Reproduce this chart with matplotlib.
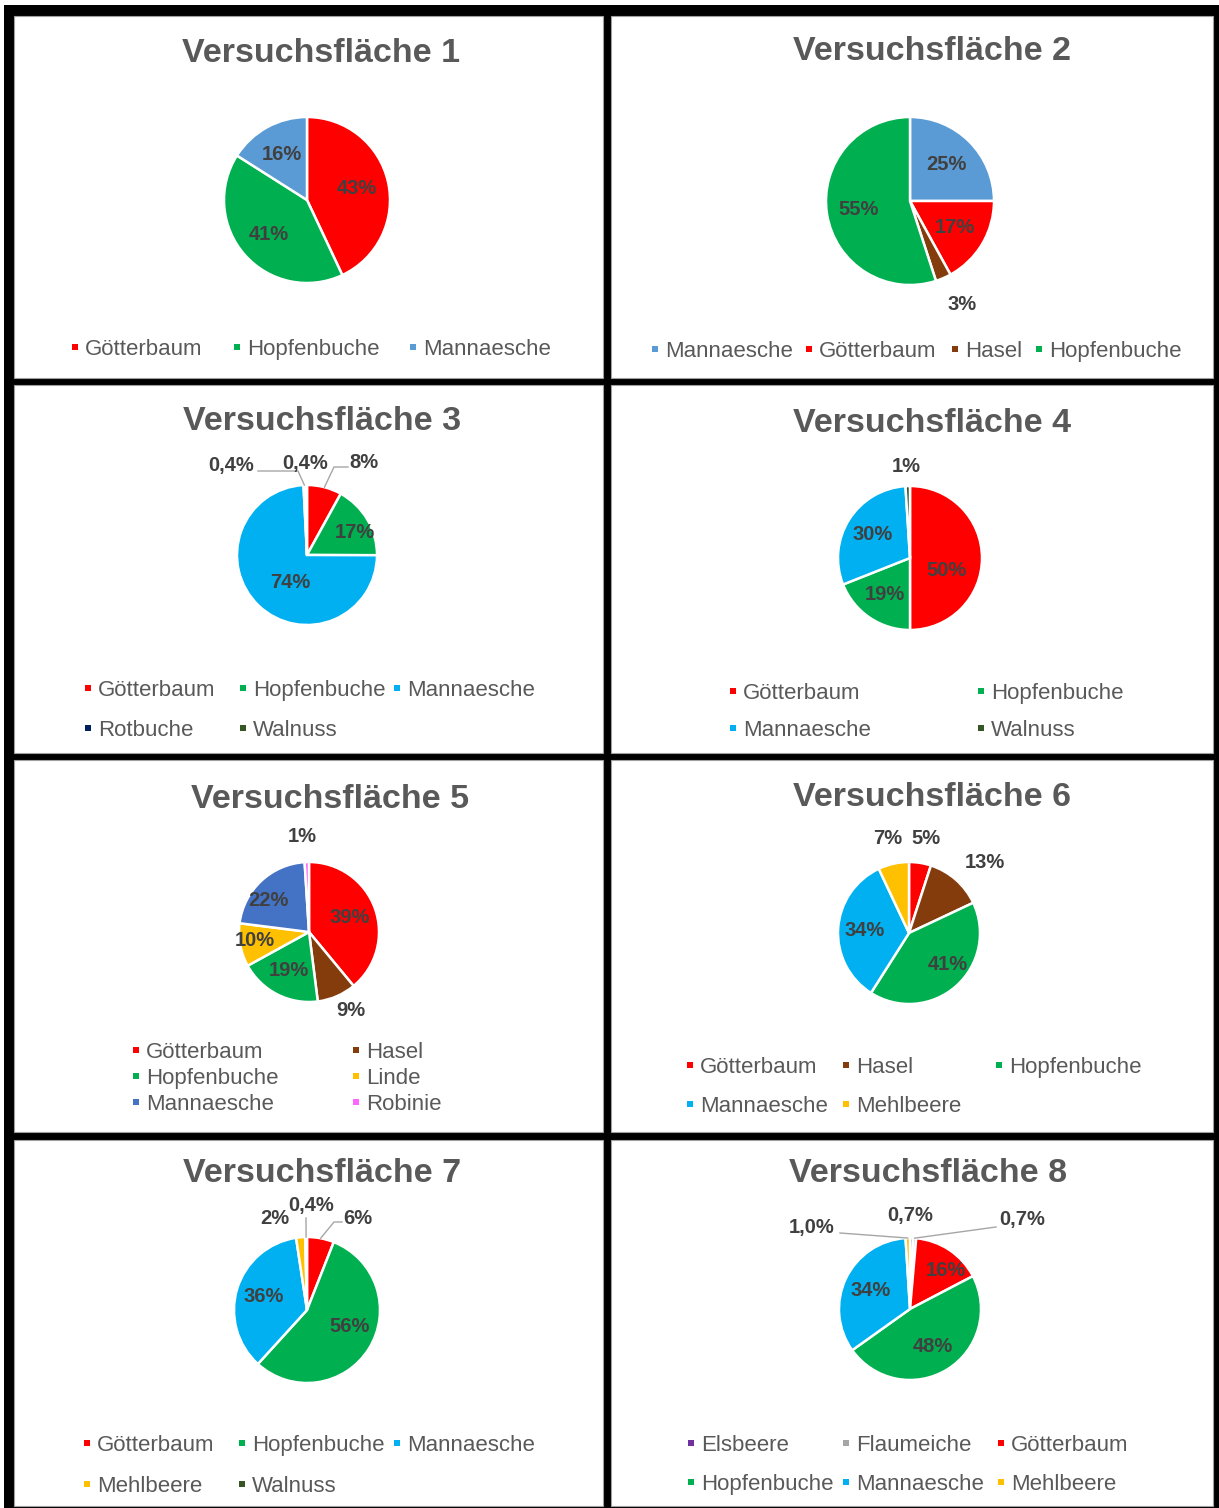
import matplotlib
matplotlib.use("Agg")
import matplotlib.pyplot as plt
from matplotlib.patches import Rectangle
import numpy as np

plt.rcParams["font.family"] = ["Liberation Sans", "DejaVu Sans"]

# ---------------- data ----------------
titles = ["Versuchsfläche 1", "Versuchsfläche 2", "Versuchsfläche 3", "Versuchsfläche 4",
          "Versuchsfläche 5", "Versuchsfläche 6", "Versuchsfläche 7", "Versuchsfläche 8"]

species1 = ["Götterbaum", "Hopfenbuche", "Mannaesche"]
values1 = [43, 41, 16]
labels1 = ["43%", "41%", "16%"]

species2 = ["Mannaesche", "Götterbaum", "Hasel", "Hopfenbuche"]
values2 = [25, 17, 3, 55]
labels2 = ["25%", "17%", "3%", "55%"]

species3 = ["Götterbaum", "Hopfenbuche", "Mannaesche", "Rotbuche", "Walnuss"]
values3 = [8, 17, 74, 0.4, 0.4]
labels3 = ["8%", "17%", "74%", "0,4%", "0,4%"]

species4 = ["Götterbaum", "Hopfenbuche", "Mannaesche", "Walnuss"]
values4 = [50, 19, 30, 1]
labels4 = ["50%", "19%", "30%", "1%"]

species5 = ["Götterbaum", "Hasel", "Hopfenbuche", "Linde", "Mannaesche", "Robinie"]
values5 = [39, 9, 19, 10, 22, 1]
labels5 = ["39%", "9%", "19%", "10%", "22%", "1%"]

species6 = ["Götterbaum", "Hasel", "Hopfenbuche", "Mannaesche", "Mehlbeere"]
values6 = [5, 13, 41, 34, 7]
labels6 = ["5%", "13%", "41%", "34%", "7%"]

species7 = ["Götterbaum", "Hopfenbuche", "Mannaesche", "Mehlbeere", "Walnuss"]
values7 = [6, 56, 36, 2, 0.4]
labels7 = ["6%", "56%", "36%", "2%", "0,4%"]

species8 = ["Elsbeere", "Flaumeiche", "Götterbaum", "Hopfenbuche", "Mannaesche", "Mehlbeere"]
values8 = [0.7, 0.7, 16, 48, 34, 1.0]
labels8 = ["0,7%", "0,7%", "16%", "48%", "34%", "1,0%"]

# ---------------- styles ----------------
base_colors = {
    "Götterbaum": "#FF0000", "Hopfenbuche": "#00B050", "Mannaesche": "#00B0F0",
    "Hasel": "#843C0C", "Rotbuche": "#002060", "Walnuss": "#375623",
    "Linde": "#FFC000", "Mehlbeere": "#FFC000", "Robinie": "#FF66FF",
    "Elsbeere": "#7030A0", "Flaumeiche": "#A5A5A5",
}
mannaesche_override = {0: "#5B9BD5", 1: "#5B9BD5", 4: "#4472C4"}

W, H = 1219, 1508
panel_rects = [(14, 16, 603, 378), (611, 16, 1213, 378),
               (14, 385, 603, 753), (611, 385, 1213, 753),
               (14, 760, 603, 1132), (611, 760, 1213, 1132),
               (14, 1140, 603, 1506), (611, 1140, 1213, 1506)]
pie_geom = [(307, 200, 83), (910, 201, 84), (307, 555, 70), (910, 558, 72),
            (309, 932, 70), (909, 933, 71), (307, 1310, 73), (910, 1309, 71)]
title_pos = [(321, 53), (932, 51), (322, 421), (932, 423),
             (330, 799), (932, 797), (322, 1174), (928, 1174)]
legend_layout = [
    ([75, 237, 413], [347]),
    ([655, 809, 955, 1039], [349]),
    ([88, 243, 397], [688, 728]),
    ([733, 981], [691, 728]),
    ([136, 356], [1050, 1076, 1102]),
    ([690, 846, 999], [1065, 1104]),
    ([87, 242, 397], [1443, 1484]),
    ([691, 846, 1001], [1443, 1482]),
]
# outside labels: wedge index -> (text position px, leader points px)
outside = [
    {},
    {2: ((962, 305), None)},
    {3: ((231, 465), [(258, 471), (298, 471)]), 4: ((305, 463), None),
     0: ((364, 462), [(348, 467), (334, 467)])},
    {3: ((906, 467), None)},
    {5: ((302, 837), None), 1: ((351, 1011), None)},
    {4: ((888, 838), None), 0: ((926, 838), None), 1: ((985, 863), None)},
    {3: ((275, 1219), None), 4: ((311, 1206), [(306, 1218)]),
     0: ((358, 1219), [(342, 1222), (334, 1222)])},
    {5: ((812, 1228), [(840, 1233)]), 0: ((910, 1216), None),
     1: ((1022, 1220), [(996, 1227)])},
]
inside_override = [
    {}, {},
    {1: (355, 532), 2: (290, 582)},
    {0: (947, 571)},
    {3: (255, 940), 4: (268, 900)},
    {2: (948, 965)},
    {1: (350, 1327)},
    {2: (946, 1271)},
]

all_species = [species1, species2, species3, species4, species5, species6, species7, species8]
all_values = [values1, values2, values3, values4, values5, values6, values7, values8]
all_labels = [labels1, labels2, labels3, labels4, labels5, labels6, labels7, labels8]

TITLE_C = "#595959"
LEG_C = "#595959"
LBL_C = "#404040"

fig = plt.figure(figsize=(W / 100, H / 100), dpi=100)
fig.patch.set_facecolor("white")

bg = fig.add_axes([0, 0, 1, 1], zorder=0)
bg.set_xlim(0, W); bg.set_ylim(H, 0); bg.axis("off")
bg.add_patch(Rectangle((4, 5), W - 4, H - 5, facecolor="black", edgecolor="none"))
for (x0, y0, x1, y1) in panel_rects:
    bg.add_patch(Rectangle((x0, y0), x1 - x0, y1 - y0, facecolor="white",
                           edgecolor="#a0a0a0", lw=0.8))

top = fig.add_axes([0, 0, 1, 1], zorder=5)
top.set_xlim(0, W); top.set_ylim(H, 0); top.axis("off")
top.patch.set_alpha(0)

for p in range(8):
    sp, vals, labs = all_species[p], all_values[p], all_labels[p]
    cols = []
    for s in sp:
        c = base_colors[s]
        if s == "Mannaesche" and p in mannaesche_override:
            c = mannaesche_override[p]
        cols.append(c)
    cx, cy, r = pie_geom[p]
    ax = fig.add_axes([(cx - r) / W, 1 - (cy + r) / H, 2 * r / W, 2 * r / H], zorder=2)
    wedges, _ = ax.pie(vals, colors=cols, startangle=90, counterclock=False, radius=1,
                       wedgeprops=dict(edgecolor="white", linewidth=1.8))
    ax.set_xlim(-1, 1); ax.set_ylim(-1, 1); ax.set_aspect("equal"); ax.axis("off")

    for i, w in enumerate(wedges):
        mid = np.deg2rad((w.theta1 + w.theta2) / 2)
        ex, ey = cx + r * np.cos(mid), cy - r * np.sin(mid)
        if i in outside[p]:
            (tx, ty), leader = outside[p][i]
            if leader:
                pts = leader + [(ex, ey)]
                top.plot([q[0] for q in pts], [q[1] for q in pts], color="#a6a6a6", lw=1.0)
        elif i in inside_override[p]:
            tx, ty = inside_override[p][i]
        else:
            tx, ty = cx + 0.62 * r * np.cos(mid), cy - 0.62 * r * np.sin(mid)
        top.text(tx, ty, labs[i], ha="center", va="center", fontsize=14.5,
                 fontweight="bold", color=LBL_C)

    tx, ty = title_pos[p]
    top.text(tx, ty, titles[p], ha="center", va="center", fontsize=24.5,
             fontweight="bold", color=TITLE_C)

    colx, rowy = legend_layout[p]
    ncol = len(colx)
    for i, s in enumerate(sp):
        mx, my = colx[i % ncol], rowy[i // ncol]
        top.add_patch(Rectangle((mx - 3, my - 3), 6, 6, facecolor=cols[i], edgecolor="none"))
        top.text(mx + 10, my + 8, s, ha="left", va="baseline", fontsize=16, color=LEG_C)

fig.savefig("out.png", dpi=100, facecolor="white")
